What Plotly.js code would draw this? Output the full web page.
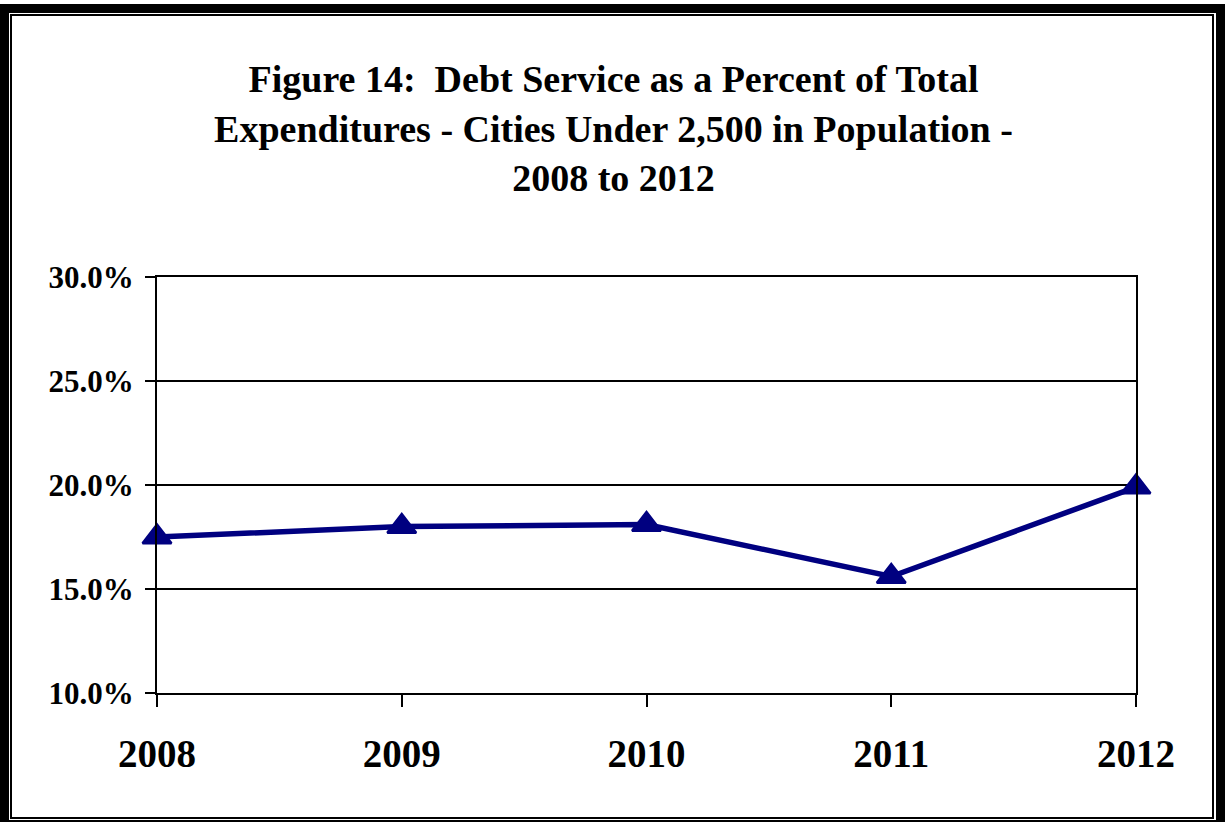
<!DOCTYPE html>
<html>
<head>
<meta charset="utf-8">
<script src="https://cdn.plot.ly/plotly-3.0.1.min.js"></script>
<style>
  html, body { margin: 0; padding: 0; background: #ffffff; overflow: hidden; }
  #wrap { position: relative; width: 1225px; height: 822px; }
  #chart { position: absolute; left: 0; top: 0; width: 1225px; height: 822px; }
  .frame { position: absolute; box-sizing: border-box; pointer-events: none; }
  #outer { left: 0; top: 4px; width: 1225px; height: 825px; border: 9px solid #000; }
  #inner { left: 10px; top: 14px; width: 1204px; height: 805px; border: 2px solid #000; }
</style>
</head>
<body>
<div id="wrap">
  <div id="chart"></div>
  <div class="frame" id="outer"></div>
  <div class="frame" id="inner"></div>
</div>
<script>
// Data
const years = ["2008", "2009", "2010", "2011", "2012"];
const debtServicePct = [17.5, 18.0, 18.1, 15.6, 19.9];
const titleLines = [
  "Figure 14:&nbsp; Debt Service as a Percent of Total",
  "Expenditures - Cities Under 2,500 in Population -",
  "2008 to 2012"
];

const serif = '"Liberation Serif", "Times New Roman", Times, serif';

const trace = {
  type: 'scatter',
  mode: 'lines+markers',
  x: years,
  y: debtServicePct,
  cliponaxis: false,
  line: { color: '#000080', width: 5.5 },
  marker: { symbol: 'triangle-up', size: 25, color: '#000080', line: { color: '#000080', width: 2.5 } },
  hoverinfo: 'x+y'
};

const layout = {
  width: 1225,
  height: 822,
  margin: { l: 157, r: 89, t: 277, b: 129, pad: 0 },
  paper_bgcolor: '#ffffff',
  plot_bgcolor: '#ffffff',
  showlegend: false,
  font: { family: serif, color: '#000' },
  title: {
    text: titleLines.join('<br>'),
    font: { family: serif, size: 38, color: '#000', weight: 'bold' },
    xref: 'paper',
    x: 0.4663,
    xanchor: 'center',
    yref: 'container',
    y: 0.8876,
    yanchor: 'top'
  },
  xaxis: {
    type: 'category',
    range: [0, 4],
    showgrid: false,
    zeroline: false,
    showline: true,
    linecolor: '#000',
    linewidth: 2,
    mirror: true,
    ticks: 'outside',
    ticklen: 12,
    tickwidth: 2,
    tickcolor: '#000',
    ticklabelstandoff: 13,
    tickfont: { family: serif, size: 39, color: '#000', weight: 'bold' }
  },
  yaxis: {
    range: [10, 30],
    dtick: 5,
    tick0: 10,
    tickformat: '.1f',
    ticksuffix: '%',
    showgrid: true,
    gridcolor: '#000',
    gridwidth: 1.6,
    zeroline: false,
    showline: true,
    linecolor: '#000',
    linewidth: 2,
    mirror: true,
    ticks: 'outside',
    ticklen: 10,
    tickwidth: 2,
    tickcolor: '#000',
    ticklabelstandoff: 5,
    tickfont: { family: serif, size: 31, color: '#000', weight: 'bold' }
  }
};

Plotly.newPlot('chart', [trace], layout, { displayModeBar: false, staticPlot: true });
</script>
</body>
</html>
